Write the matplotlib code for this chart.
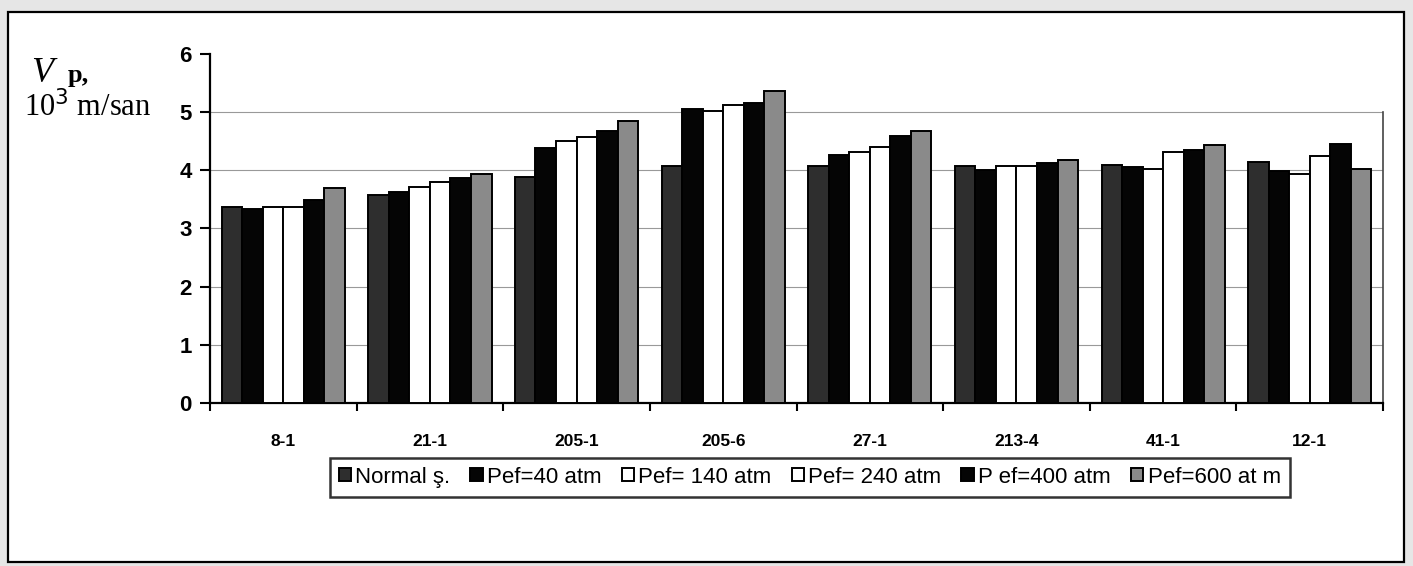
import matplotlib
matplotlib.use("Agg")
import matplotlib.pyplot as plt
import numpy as np
from matplotlib.patches import Rectangle

categories = ["8-1", "21-1", "205-1", "205-6", "27-1", "213-4", "41-1", "12-1"]
series_names = ["Normal ş.", "Pef=40 atm", "Pef= 140 atm", "Pef= 240 atm", "P ef=400 atm", "Pef=600 at m"]
normal = [3.37, 3.58, 3.88, 4.08, 4.08, 4.07, 4.09, 4.15]
pef40 = [3.34, 3.62, 4.38, 5.05, 4.27, 4.00, 4.05, 3.98]
pef140 = [3.37, 3.71, 4.51, 5.02, 4.31, 4.07, 4.03, 3.94]
pef240 = [3.37, 3.80, 4.57, 5.13, 4.40, 4.07, 4.31, 4.25]
pef400 = [3.49, 3.86, 4.67, 5.15, 4.59, 4.13, 4.35, 4.45]
pef600 = [3.70, 3.94, 4.84, 5.37, 4.67, 4.17, 4.43, 4.02]
y_ticks = [0, 1, 2, 3, 4, 5, 6]

series = [normal, pef40, pef140, pef240, pef400, pef600]
colors = ["#2e2e2e", "#050505", "#ffffff", "#ffffff", "#050505", "#8a8a8a"]

fig = plt.figure(figsize=(14.13, 5.66), dpi=100)
fig.patch.set_facecolor("#e6e6e6")
fig.patches.append(Rectangle((0.0057, 0.007), 0.988, 0.972, transform=fig.transFigure,
                             facecolor="white", edgecolor="black", linewidth=1.6, zorder=-5))

ax = fig.add_axes([0.1486, 0.288, 0.8302, 0.6166])
ax.set_facecolor("none")
ax.set_zorder(2)

x = np.arange(len(categories))
n = len(series)
bw = 0.14
for i, (vals, c) in enumerate(zip(series, colors)):
    offs = (i - (n - 1) / 2) * bw
    ax.bar(x + offs, vals, width=bw, color=c, edgecolor="black", linewidth=1.4,
           label=series_names[i], zorder=3)

ax.set_xlim(-0.5, len(categories) - 0.5)
ax.set_ylim(0, 6)
ax.set_yticks(y_ticks)
ax.set_yticklabels([str(t) for t in y_ticks], fontsize=16, fontweight="bold",
                   family="Liberation Sans")
for t in y_ticks[1:-1]:
    ax.axhline(t, color="#999999", linewidth=0.8, zorder=1)
ax.plot([len(categories) - 0.5] * 2, [0, 5], color="#444444", linewidth=1.2,
        zorder=2, clip_on=False)

ax.set_xticks(x)
ax.set_xticklabels(categories, fontsize=12.5, fontweight="bold", family="Liberation Sans")
ax.set_xticks(np.arange(len(categories) + 1) - 0.5, minor=True)
ax.tick_params(axis="x", which="major", length=0, pad=22)
ax.tick_params(axis="x", which="minor", length=6, width=1.5, direction="out")
ax.tick_params(axis="y", length=7, width=1.5, direction="out", pad=6)

for s in ["top", "right"]:
    ax.spines[s].set_visible(False)
ax.spines["left"].set_linewidth(1.6)
ax.spines["bottom"].set_linewidth(1.6)

fig.text(0.022, 0.855, "V", fontsize=26, style="italic", family="Liberation Serif",
         ha="left", va="baseline")
fig.text(0.048, 0.855, "p,", fontsize=19, fontweight="bold", family="Liberation Serif",
         ha="left", va="baseline")
fig.text(0.017, 0.795, "10$^{3}$ m/san", fontsize=22, family="Liberation Serif",
         ha="left", va="baseline")

leg = fig.legend(loc="center", bbox_to_anchor=(0.573, 0.157), ncol=6,
                 frameon=True, fancybox=False, edgecolor="black",
                 prop={"family": "Liberation Sans", "size": 16},
                 handlelength=0.55, handleheight=0.55, handletextpad=0.2,
                 columnspacing=0.9, borderpad=0.4)
leg.get_frame().set_linewidth(1.8)

fig.savefig("out.png", dpi=100, facecolor=fig.get_facecolor())
